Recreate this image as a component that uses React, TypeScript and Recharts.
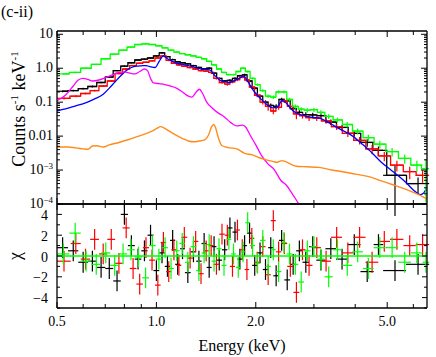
import React from "react";
import { ComposedChart, ErrorBar, Line, ReferenceLine, Scatter, XAxis, YAxis } from "recharts";

// bin edges (keV), count rates (counts/s/keV), relative errors and chi residuals
const blackEdges = [0.5, 0.54, 0.58, 0.62, 0.66, 0.7, 0.74, 0.78, 0.82, 0.86, 0.9, 0.94, 0.98, 1.02, 1.06, 1.1, 1.14, 1.18, 1.22, 1.27, 1.32, 1.37, 1.42, 1.47, 1.52, 1.58, 1.64, 1.7, 1.76, 1.82, 1.88, 1.95, 2.02, 2.1, 2.18, 2.26, 2.35, 2.44, 2.54, 2.65, 2.77, 2.9, 3.05, 3.25, 3.5, 3.8, 4.15, 4.55, 4.86, 5.7, 6.7];
const blackRate = [0.21, 0.22, 0.25, 0.29, 0.38, 0.55, 0.85, 1.15, 1.45, 1.75, 1.85, 2.0, 2.3, 2.85, 2.2, 1.8, 1.55, 1.45, 1.35, 1.2, 1.05, 0.95, 1.0, 0.72, 0.5, 0.42, 0.44, 0.5, 0.6, 0.64, 0.42, 0.26, 0.15, 0.1, 0.08, 0.075, 0.12, 0.11, 0.065, 0.05, 0.043, 0.042, 0.04, 0.026, 0.018, 0.012, 0.0065, 0.0038, 0.0007, 0.0004];
const blackRelErr = [0.06, 0.06, 0.06, 0.06, 0.05, 0.05, 0.04, 0.04, 0.04, 0.04, 0.04, 0.04, 0.04, 0.04, 0.04, 0.05, 0.05, 0.05, 0.05, 0.05, 0.05, 0.06, 0.06, 0.06, 0.07, 0.08, 0.08, 0.08, 0.07, 0.07, 0.09, 0.1, 0.12, 0.14, 0.15, 0.15, 0.12, 0.12, 0.15, 0.16, 0.17, 0.17, 0.15, 0.18, 0.18, 0.2, 0.25, 0.3, 0.95, 0.5];
const blackChi = [0.8, 0.5, -0.6, -0.5, -1.1, -1.2, -2.4, 4.0, 1.0, -0.3, 0.5, 2.0, -1.4, 0.3, -1.0, 1.5, -0.8, 0.7, -1.6, 0.4, -0.5, 1.2, -1.1, 0.9, -0.4, 0.6, 2.7, 2.3, -0.3, 1.0, 2.2, -0.9, 0.3, -1.3, 0.8, -1.9, 1.5, -2.3, -0.8, 0.5, -0.6, 0.9, -0.4, 0.7, -0.3, 1.1, -1.5, 1.1, -1.4, -0.8];

const redEdges = [0.5, 0.55, 0.59, 0.63, 0.67, 0.71, 0.75, 0.79, 0.83, 0.87, 0.91, 0.95, 0.99, 1.03, 1.07, 1.11, 1.15, 1.19, 1.24, 1.29, 1.34, 1.39, 1.44, 1.49, 1.55, 1.61, 1.67, 1.73, 1.79, 1.85, 1.91, 1.98, 2.06, 2.14, 2.22, 2.3, 2.39, 2.49, 2.6, 2.71, 2.83, 2.97, 3.15, 3.38, 3.65, 3.95, 4.3, 4.7, 5.1, 5.6, 6.1, 6.7];
const redRate = [0.13, 0.15, 0.18, 0.22, 0.3, 0.42, 0.7, 0.95, 1.2, 1.4, 1.5, 1.65, 2.0, 2.3, 1.7, 1.4, 1.25, 1.15, 1.05, 0.95, 0.85, 0.82, 0.75, 0.5, 0.38, 0.34, 0.4, 0.46, 0.55, 0.45, 0.28, 0.16, 0.1, 0.075, 0.055, 0.07, 0.11, 0.075, 0.045, 0.04, 0.035, 0.034, 0.028, 0.019, 0.012, 0.0075, 0.0042, 0.0026, 0.0014, 0.0009, 0.0007];
const redRelErr = [0.07, 0.07, 0.06, 0.06, 0.06, 0.05, 0.05, 0.05, 0.04, 0.04, 0.04, 0.04, 0.04, 0.04, 0.05, 0.05, 0.05, 0.05, 0.05, 0.06, 0.06, 0.06, 0.06, 0.07, 0.08, 0.1, 0.1, 0.09, 0.08, 0.09, 0.1, 0.12, 0.15, 0.25, 0.2, 0.15, 0.14, 0.15, 0.3, 0.18, 0.2, 0.18, 0.18, 0.2, 0.22, 0.25, 0.3, 0.3, 0.35, 0.4, 0.4];
const redChi = [-0.5, 1.2, -0.3, 1.6, 0.2, 1.6, -0.7, 2.7, -1.2, -2.7, 0.8, -0.4, -2.8, 1.3, -1.5, 0.6, -0.9, 1.8, -0.2, 1.4, -1.7, 0.5, 1.0, -0.8, 2.1, 2.0, -1.0, 2.5, 0.6, -1.3, 1.7, -0.6, 0.9, -1.8, 3.4, 0.4, 1.2, -1.0, -3.5, 0.6, -0.9, 0.8, -0.5, 1.8, 0.3, 1.8, -0.6, 1.4, 1.6, 1.0, 1.1];

const greenEdges = [0.5, 0.545, 0.59, 0.635, 0.68, 0.725, 0.77, 0.815, 0.86, 0.905, 0.95, 0.995, 1.04, 1.085, 1.13, 1.175, 1.22, 1.27, 1.32, 1.37, 1.42, 1.47, 1.52, 1.575, 1.63, 1.685, 1.74, 1.8, 1.86, 1.92, 1.99, 2.06, 2.14, 2.22, 2.3, 2.39, 2.48, 2.58, 2.69, 2.8, 2.93, 3.07, 3.23, 3.42, 3.65, 3.92, 4.22, 4.55, 4.95, 5.4, 5.9, 6.4, 6.7];
const greenRate = [0.68, 0.75, 1.0, 1.3, 1.9, 2.6, 3.4, 4.2, 5.0, 5.2, 5.0, 4.6, 4.0, 3.4, 3.0, 2.7, 2.5, 2.3, 2.1, 1.9, 1.6, 1.25, 0.95, 0.75, 0.65, 0.65, 0.8, 1.0, 0.8, 0.5, 0.33, 0.22, 0.15, 0.14, 0.2, 0.2, 0.12, 0.075, 0.062, 0.058, 0.06, 0.05, 0.038, 0.03, 0.022, 0.014, 0.009, 0.0058, 0.0035, 0.0022, 0.0014, 0.0011];
const greenRelErr = [0.05, 0.05, 0.04, 0.04, 0.04, 0.03, 0.03, 0.03, 0.03, 0.03, 0.03, 0.03, 0.03, 0.03, 0.03, 0.03, 0.03, 0.04, 0.04, 0.04, 0.04, 0.04, 0.05, 0.05, 0.06, 0.06, 0.06, 0.05, 0.06, 0.07, 0.08, 0.1, 0.12, 0.12, 0.1, 0.1, 0.12, 0.14, 0.14, 0.15, 0.14, 0.15, 0.16, 0.17, 0.18, 0.2, 0.22, 0.25, 0.28, 0.3, 0.35, 0.9];
const greenChi = [0.2, 2.2, -0.5, -0.8, 0.3, -0.9, 0.2, 0.6, -0.1, -2.1, 1.0, -0.3, 0.8, -1.2, 0.5, 1.2, -0.6, 0.9, -1.4, 0.3, 1.1, -0.5, 0.7, -0.9, 1.6, 0.2, -1.1, 0.4, 3.2, 1.0, -0.7, 1.5, -1.0, 0.6, -1.5, 1.3, 0.2, -0.8, -2.5, 0.5, 0.9, -0.3, -2.0, 0.6, -0.9, 0.4, -1.2, 0.8, 0.8, -0.6, 0.3, -0.6];

// model components
const blueE = [0.5, 0.53, 0.57, 0.61, 0.65, 0.69, 0.72, 0.75, 0.78, 0.81, 0.84, 0.87, 0.9, 0.93, 0.96, 0.99, 1.02, 1.05, 1.08, 1.12, 1.16, 1.2, 1.25, 1.3, 1.35, 1.4, 1.45, 1.5, 1.55, 1.6, 1.66, 1.72, 1.78, 1.84, 1.88, 1.94, 2.0, 2.08, 2.16, 2.24, 2.32, 2.4, 2.46, 2.55, 2.65, 2.75, 2.9, 3.05, 3.15, 3.35, 3.6, 3.9, 4.2, 4.5, 4.8, 5.1, 5.4, 5.7, 6.0, 6.3, 6.45, 6.55, 6.6];
const blueRate = [0.055, 0.063, 0.078, 0.095, 0.125, 0.17, 0.26, 0.4, 0.6, 0.85, 1.05, 1.15, 1.18, 1.2, 1.1, 1.05, 1.6, 2.3, 1.9, 1.6, 1.4, 1.3, 1.2, 1.08, 0.98, 0.92, 0.9, 0.62, 0.46, 0.4, 0.38, 0.43, 0.5, 0.58, 0.45, 0.27, 0.18, 0.12, 0.085, 0.068, 0.07, 0.11, 0.1, 0.065, 0.048, 0.042, 0.037, 0.035, 0.033, 0.024, 0.016, 0.0105, 0.0058, 0.0032, 0.0017, 0.00105, 0.00068, 0.00043, 0.00026, 0.00019, 0.00021, 0.00026, 0.00026];

const magentaE = [0.5, 0.53, 0.56, 0.58, 0.6, 0.62, 0.64, 0.67, 0.7, 0.74, 0.77, 0.8, 0.83, 0.86, 0.89, 0.92, 0.94, 0.96, 0.98, 1.02, 1.06, 1.1, 1.15, 1.2, 1.25, 1.28, 1.32, 1.35, 1.38, 1.42, 1.47, 1.53, 1.6, 1.68, 1.75, 1.82, 1.86, 1.92, 2.0, 2.08, 2.18, 2.28, 2.38, 2.48, 2.58, 2.7, 2.8];
const magentaRate = [0.11, 0.16, 0.3, 0.45, 0.5, 0.47, 0.42, 0.45, 0.52, 0.65, 0.75, 0.78, 0.72, 0.68, 0.8, 0.95, 0.85, 0.5, 0.37, 0.35, 0.33, 0.3, 0.26, 0.2, 0.15, 0.14, 0.2, 0.24, 0.18, 0.1, 0.07, 0.05, 0.038, 0.025, 0.02, 0.021, 0.019, 0.011, 0.0055, 0.0027, 0.0015, 0.001, 0.0005, 0.00035, 0.0002, 0.0001, 0.00006];

const orangeE = [0.5, 0.54, 0.57, 0.6, 0.62, 0.64, 0.66, 0.69, 0.72, 0.77, 0.82, 0.87, 0.92, 0.97, 1.0, 1.03, 1.06, 1.1, 1.15, 1.2, 1.25, 1.3, 1.35, 1.4, 1.44, 1.47, 1.49, 1.51, 1.54, 1.58, 1.65, 1.75, 1.85, 1.95, 2.05, 2.15, 2.25, 2.32, 2.4, 2.45, 2.55, 2.65, 2.85, 3.1, 3.4, 3.7, 4.0, 4.4, 4.8, 5.2, 5.6, 6.0, 6.4, 6.6];
const orangeRate = [0.0048, 0.0048, 0.0045, 0.0042, 0.0041, 0.0051, 0.0052, 0.0048, 0.0055, 0.0065, 0.0078, 0.0095, 0.0115, 0.014, 0.0165, 0.019, 0.017, 0.0135, 0.0105, 0.0085, 0.0072, 0.0068, 0.0072, 0.0078, 0.011, 0.019, 0.022, 0.018, 0.009, 0.0052, 0.0046, 0.0042, 0.0031, 0.0028, 0.0023, 0.002, 0.0018, 0.0017, 0.0019, 0.0018, 0.0015, 0.0013, 0.00125, 0.0012, 0.001, 0.00088, 0.00076, 0.00064, 0.00048, 0.00037, 0.00029, 0.00022, 0.000165, 0.00014];

// axes
const energyTicks = [0.5, 0.6, 0.7, 0.8, 0.9, 1, 2, 3, 4, 5, 6];
const energyLabels: Record<string, string> = { "0.5": "0.5", "1": "1.0", "2": "2.0", "5": "5.0" };
const rateLabels: Record<string, string> = { "10": "10", "1": "1.0", "0.1": "0.1", "0.01": "0.01" };
const rateExpLabels: Record<string, string> = { "0.001": "\u22123", "0.0001": "\u22124" };
const chiTicks = [-5, -4, -3, -2, -1, 0, 1, 2, 3, 4, 5];
const chiLabels: Record<string, string> = { "4": "4", "2": "2", "0": "0", "-2": "\u22122", "-4": "\u22124" };

const rateTicks: number[] = [];
for (let d = -4; d <= 0; d++) {
  for (let m = 1; m <= 9; m++) rateTicks.push(Number((m * Math.pow(10, d)).toPrecision(3)));
}
rateTicks.push(10);

const FONT = "'Times New Roman', 'Liberation Serif', 'DejaVu Serif', serif";
const INK = "#000";
const AXIS_LINE = { stroke: INK, strokeWidth: 1.3 };

function binned(edges: number[], rate: number[], rel: number[]) {
  return rate.map((r, i) => {
    const lo = edges[i];
    const hi = edges[i + 1];
    const e = (lo + hi) / 2;
    const err = r * rel[i];
    return { e, y: r, ex: [e - lo, hi - e], ey: [Math.min(err, r * 0.97), err] };
  });
}

function residuals(edges: number[], chi: number[]) {
  return chi.map((c, i) => {
    const lo = edges[i];
    const hi = edges[i + 1];
    const e = (lo + hi) / 2;
    return { e, y: c, ex: [e - lo, hi - e], ey: 1 };
  });
}

function curve(es: number[], rate: number[]) {
  return es.map((e, i) => ({ e, y: rate[i] }));
}

const blackPts = binned(blackEdges, blackRate, blackRelErr);
const redPts = binned(redEdges, redRate, redRelErr);
const greenPts = binned(greenEdges, greenRate, greenRelErr);
const blackRes = residuals(blackEdges, blackChi);
const redRes = residuals(redEdges, redChi);
const greenRes = residuals(greenEdges, greenChi);
const blueLine = curve(blueE, blueRate);
const magentaLine = curve(magentaE, magentaRate);
const orangeLine = curve(orangeE, orangeRate);

type Side = "bottom" | "top" | "left" | "right";

function isDecade(v: number) {
  const l = Math.log10(v);
  return Math.abs(l - Math.round(l)) < 1e-6;
}

function makeTick(side: Side, isMajor: (v: number) => boolean, label?: (v: number) => React.ReactNode, majorLen = 6, minorLen = 3, labelGap = 5, baseline = 5) {
  return (props: any) => {
    const { x, y, payload } = props;
    const v = payload.value as number;
    const len = isMajor(v) ? majorLen : minorLen;
    let x2 = x;
    let y2 = y;
    if (side === "bottom") y2 = y - len;
    if (side === "top") y2 = y + len;
    if (side === "left") x2 = x + len;
    if (side === "right") x2 = x - len;
    const text = label ? label(v) : null;
    return (
      <g>
        <line x1={x} y1={y} x2={x2} y2={y2} stroke={INK} strokeWidth={1} />
        {text != null && side === "bottom" && (
          <text x={x} y={y + 18} textAnchor="middle" fontSize={14} style={{ fontFamily: FONT }} fill={INK}>
            {text}
          </text>
        )}
        {text != null && side === "left" && (
          <text x={x - labelGap} y={y + baseline} textAnchor="end" fontSize={14} style={{ fontFamily: FONT }} fill={INK}>
            {text}
          </text>
        )}
      </g>
    );
  };
}

const energyMajor = (v: number) => energyLabels[String(v)] !== undefined;
const energyLabel = (v: number) => energyLabels[String(v)] ?? null;
const rateLabel = (v: number): React.ReactNode => {
  const k = String(v);
  if (rateLabels[k]) return rateLabels[k];
  if (rateExpLabels[k])
    return (
      <>
        10
        <tspan dy={-5} fontSize={9}>
          {rateExpLabels[k]}
        </tspan>
      </>
    );
  return null;
};
const chiMajor = (v: number) => chiLabels[String(v)] !== undefined;
const chiLabel = (v: number) => chiLabels[String(v)] ?? null;

const noShape = () => <g />;

function errorCross(data: any[], color: string, key: string) {
  return (
    <Scatter key={key} data={data} shape={noShape} isAnimationActive={false} fill={color}>
      <ErrorBar dataKey="ex" direction="x" width={0} stroke={color} strokeWidth={1.2} isAnimationActive={false} />
      <ErrorBar dataKey="ey" direction="y" width={0} stroke={color} strokeWidth={1.2} isAnimationActive={false} />
    </Scatter>
  );
}

function spectrumSeries(data: any[], color: string) {
  return [
    <Line key={color + "-step"} data={data} dataKey="y" type="step" stroke={color} strokeWidth={1.3} dot={false} isAnimationActive={false} />,
    errorCross(data, color, color + "-pts"),
  ];
}

const E_DOMAIN: [number, number] = [0.5, 6.6];
const RATE_DOMAIN: [number, number] = [1e-4, 12.5];
const CHI_DOMAIN: [number, number] = [-5, 5];

export default function App() {
  return (
    <div style={{ position: "absolute", left: 0, top: 0, width: 436, height: 357, background: "#fff", overflow: "hidden", fontFamily: FONT }}>
      <div style={{ position: "absolute", left: 0, top: 198 }}>
        <ComposedChart width={436} height={159} margin={{ top: 5, right: 8, bottom: 48, left: 56 }}>
          <XAxis dataKey="e" type="number" scale="log" domain={E_DOMAIN} allowDataOverflow ticks={energyTicks} interval={0} height={1} tickSize={0} tickMargin={0} tickLine={false} axisLine={AXIS_LINE} tick={makeTick("bottom", energyMajor, energyLabel, 6, 4)} />
          <XAxis xAxisId="top" orientation="top" dataKey="e" type="number" scale="log" domain={E_DOMAIN} allowDataOverflow ticks={energyTicks} interval={0} height={1} tickSize={0} tickMargin={0} tickLine={false} axisLine={AXIS_LINE} tick={makeTick("top", energyMajor, undefined, 6, 4)} />
          <YAxis dataKey="y" type="number" domain={CHI_DOMAIN} allowDataOverflow ticks={chiTicks} interval={0} width={1} tickSize={0} tickMargin={0} tickLine={false} axisLine={AXIS_LINE} tick={makeTick("left", chiMajor, chiLabel, 5, 3, 9, 5.5)} />
          <YAxis yAxisId="right" orientation="right" dataKey="y" type="number" domain={CHI_DOMAIN} allowDataOverflow ticks={chiTicks} interval={0} width={1} tickSize={0} tickMargin={0} tickLine={false} axisLine={AXIS_LINE} tick={makeTick("right", chiMajor, undefined, 5, 3)} />
          {errorCross(blackRes, "#000000", "black-res")}
          {errorCross(redRes, "#ff0000", "red-res")}
          {errorCross(greenRes, "#00ff00", "green-res")}
          <ReferenceLine y={0} stroke="#00ff00" strokeWidth={1.6} />
        </ComposedChart>
      </div>
      <div style={{ position: "absolute", left: 0, top: 0 }}>
        <ComposedChart width={436} height={216} margin={{ top: 30, right: 8, bottom: 11, left: 56 }}>
          <XAxis dataKey="e" type="number" scale="log" domain={E_DOMAIN} allowDataOverflow ticks={energyTicks} interval={0} height={1} tickSize={0} tickMargin={0} tickLine={false} axisLine={AXIS_LINE} tick={makeTick("bottom", energyMajor, undefined, 6, 4)} />
          <XAxis xAxisId="top" orientation="top" dataKey="e" type="number" scale="log" domain={E_DOMAIN} allowDataOverflow ticks={energyTicks} interval={0} height={1} tickSize={0} tickMargin={0} tickLine={false} axisLine={AXIS_LINE} tick={makeTick("top", energyMajor, undefined, 6, 4)} />
          <YAxis dataKey="y" type="number" scale="log" domain={RATE_DOMAIN} allowDataOverflow ticks={rateTicks} interval={0} width={1} tickSize={0} tickMargin={0} tickLine={false} axisLine={AXIS_LINE} tick={makeTick("left", isDecade, rateLabel, 6, 3, 4, 3.5)} />
          <YAxis yAxisId="right" orientation="right" dataKey="y" type="number" scale="log" domain={RATE_DOMAIN} allowDataOverflow ticks={rateTicks} interval={0} width={1} tickSize={0} tickMargin={0} tickLine={false} axisLine={AXIS_LINE} tick={makeTick("right", isDecade, undefined, 6, 3)} />
          {spectrumSeries(blackPts, "#000000")}
          {spectrumSeries(redPts, "#ff0000")}
          <Line data={blueLine} dataKey="y" type="monotone" stroke="#0000ff" strokeWidth={1.3} dot={false} isAnimationActive={false} />
          {spectrumSeries(greenPts, "#00ff00")}
          <Line data={magentaLine} dataKey="y" type="monotone" stroke="#ff00ff" strokeWidth={1.3} dot={false} isAnimationActive={false} />
          <Line data={orangeLine} dataKey="y" type="monotone" stroke="#ff8c1a" strokeWidth={1.4} dot={false} isAnimationActive={false} />
        </ComposedChart>
      </div>
      <svg width={436} height={357} style={{ position: "absolute", left: 0, top: 0, pointerEvents: "none", fontFamily: FONT }}>
        <text x={1} y={17} fontSize={16} fill={INK}>
          (c-ii)
        </text>
        <text transform="translate(25,109) rotate(-90)" textAnchor="middle" fontSize={18} fill={INK}>
          Counts s
          <tspan dy={-7} fontSize={11}>
            -1
          </tspan>
          <tspan dy={7}> keV</tspan>
          <tspan dy={-7} fontSize={11}>
            -1
          </tspan>
        </text>
        <text transform="translate(21,256) rotate(-90)" textAnchor="middle" fontSize={18} fill={INK}>
          χ
        </text>
        <text x={242} y={351} textAnchor="middle" fontSize={16} fill={INK}>
          Energy (keV)
        </text>
      </svg>
    </div>
  );
}
